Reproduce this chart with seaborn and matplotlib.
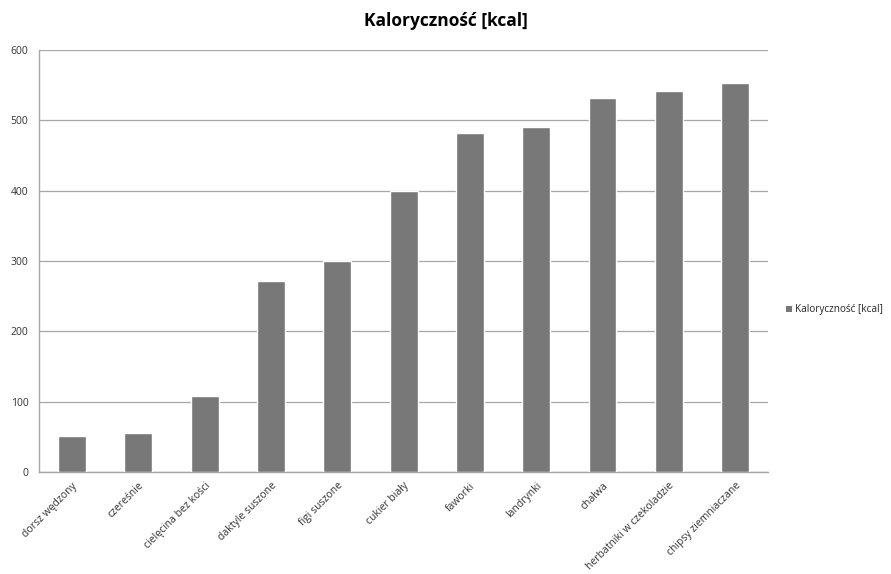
import numpy as np
import pandas as pd
import seaborn as sns
import matplotlib.pyplot as plt
from matplotlib.patches import Patch

# data
foods = ["dorsz wędzony", "czereśnie", "cielęcina bez kości", "daktyle suszone",
         "figi suszone", "cukier biały", "faworki", "landrynki", "chałwa",
         "herbatniki w czekoladzie", "chipsy ziemniaczane"]
kcal = [51, 55, 108, 272, 300, 400, 482, 490, 532, 541, 553]
series_name = "Kaloryczność [kcal]"

df = pd.DataFrame({"food": foods, "kcal": kcal})

sns.set_style("white")
plt.rcParams["font.family"] = ["Open Sans", "DejaVu Sans"]

bar_color = "#787878"
grid_color = "#a6a6a6"

fig = plt.figure(figsize=(8.91, 5.74), dpi=100)
ax = fig.add_axes([0.0437, 0.1777, 0.8185, 0.7352])

sns.barplot(data=df, x="food", y="kcal", color=bar_color, saturation=1,
            width=0.42, ax=ax, zorder=3)

ax.set_ylim(0, 600)
ax.set_xlim(-0.5, len(foods) - 0.5)
ax.set_yticks(np.arange(0, 601, 100))
ax.yaxis.grid(True, color=grid_color, linewidth=0.9, zorder=0)
ax.set_axisbelow(True)

for side in ["top", "right"]:
    ax.spines[side].set_visible(False)
for side in ["left", "bottom"]:
    ax.spines[side].set_color(grid_color)
    ax.spines[side].set_linewidth(1.0)

ax.set_xlabel("")
ax.set_ylabel("")

# tick marks on category boundaries
ax.set_xticks(np.arange(-0.5, len(foods), 1.0), minor=True)
ax.tick_params(axis="x", which="minor", length=4, color=grid_color, width=1)
ax.tick_params(axis="x", which="major", length=0, pad=6)
ax.tick_params(axis="y", length=4, color=grid_color, width=1, labelsize=7.5,
               colors="#333333")
ax.set_xticks(range(len(foods)))
ax.set_xticklabels(foods, rotation=45, ha="right", rotation_mode="anchor",
                   fontsize=7.5, color="#333333")
for lab in ax.get_yticklabels():
    lab.set_color("#333333")

fig.text(0.5, 0.963, series_name, ha="center", va="center", fontsize=12.5,
         fontweight="bold", color="black")

handle = Patch(facecolor=bar_color, edgecolor="none")
fig.legend([handle], [series_name], loc="center left",
           bbox_to_anchor=(0.872, 0.46), frameon=False, fontsize=7.2,
           handlelength=0.6, handleheight=0.6, handletextpad=0.3)

fig.savefig("out.png", dpi=100)
